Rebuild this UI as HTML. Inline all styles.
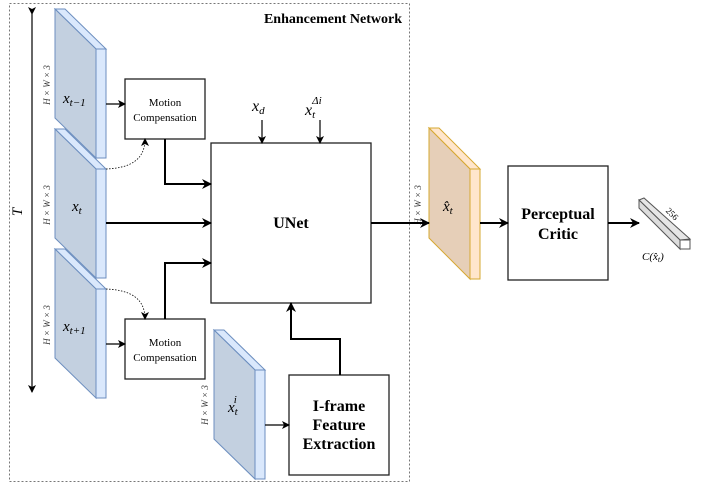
<!DOCTYPE html>
<html><head><style>body{margin:0;background:#fff}svg{display:block}</style></head><body>
<svg width="706" height="484" viewBox="0 0 706 484" xmlns="http://www.w3.org/2000/svg" font-family="Liberation Serif, serif">
<defs>
<marker id="a" markerWidth="10" markerHeight="10" refX="9" refY="5" orient="auto" markerUnits="userSpaceOnUse"><path d="M0,0 L10,5 L0,10 L3,5 z" fill="#000"/></marker>
<marker id="s" markerWidth="8" markerHeight="8" refX="7" refY="4" orient="auto" markerUnits="userSpaceOnUse"><path d="M0,0 L8,4 L0,8 L2,4 z" fill="#000"/></marker>
</defs>
<rect x="9.5" y="3.5" width="400" height="478" fill="none" stroke="#777" stroke-dasharray="2,2"/>
<text x="402" y="23" text-anchor="end" font-weight="bold" font-size="14">Enhancement Network</text>
<line x1="32" y1="14" x2="32" y2="392" stroke="#000" stroke-width="1.2" marker-start="url(#s)" marker-end="url(#s)"/>
<text transform="translate(22,212) rotate(-90)" font-size="15" font-style="italic" text-anchor="middle">T</text>
<g stroke="#6c8ebf" stroke-width="1">
<g id="sl">
<polygon points="55,9 65,9 106,49 96,49" fill="#dae8fc"/>
<rect x="96" y="49" width="10" height="109" fill="#dae8fc"/>
<polygon points="55,9 96,49 96,158 55,118" fill="#c3d0e0"/>
</g>
<use href="#sl" y="120"/>
<use href="#sl" y="240"/>
<use href="#sl" x="159" y="321"/>
</g>
<g stroke="#d6a832" stroke-width="1">
<polygon points="429,128 439,128 480,169 470,169" fill="#ffe6cc"/>
<rect x="470" y="169" width="10" height="110" fill="#ffe6cc"/>
<polygon points="429,128 470,169 470,279 429,238" fill="#e6cfb8"/>
</g>
<g font-size="9" fill="#333" font-style="italic">
<text transform="translate(50,85) rotate(-90)" text-anchor="middle">H × W × 3</text>
<text transform="translate(50,205) rotate(-90)" text-anchor="middle">H × W × 3</text>
<text transform="translate(50,325) rotate(-90)" text-anchor="middle">H × W × 3</text>
<text transform="translate(208,405) rotate(-90)" text-anchor="middle">H × W × 3</text>
<text transform="translate(421,205) rotate(-90)" text-anchor="middle">H × W × 3</text>
</g>
<g font-size="15" font-style="italic">
<text x="63" y="103">x<tspan font-size="11" dy="3">t−1</tspan></text>
<text x="72" y="211">x<tspan font-size="11" dy="3">t</tspan></text>
<text x="63" y="331">x<tspan font-size="11" dy="3">t+1</tspan></text>
<text x="228" y="412">x<tspan font-size="11" dy="3">t</tspan><tspan font-size="11" dx="-4" dy="-12">i</tspan></text>
<text x="443" y="211">x̂<tspan font-size="11" dy="3">t</tspan></text>
</g>
<g font-size="16" font-style="italic">
<text x="252" y="111">x<tspan font-size="11" dy="3">d</tspan></text>
<text x="305" y="115">x<tspan font-size="11" dy="3">t</tspan><tspan font-size="11" dx="-3" dy="-14">Δi</tspan></text>
</g>
<g fill="#fff" stroke="#222" stroke-width="1.3">
<rect x="125" y="79" width="80" height="60"/>
<rect x="125" y="319" width="80" height="60"/>
<rect x="211" y="143" width="160" height="160"/>
<rect x="289" y="375" width="100" height="100"/>
<rect x="508" y="166" width="100" height="114"/>
</g>
<g font-size="11" text-anchor="middle">
<text x="165" y="106">Motion</text><text x="165" y="121">Compensation</text>
<text x="165" y="346">Motion</text><text x="165" y="361">Compensation</text>
</g>
<g font-size="16" font-weight="bold" text-anchor="middle">
<text x="291" y="228">UNet</text>
<text x="339" y="411">I-frame</text><text x="339" y="430">Feature</text><text x="339" y="449">Extraction</text>
<text x="558" y="219">Perceptual</text><text x="558" y="239">Critic</text>
</g>
<g fill="none" stroke="#000">
<line x1="106" y1="104" x2="125" y2="104" stroke-width="1.2" marker-end="url(#s)"/>
<line x1="106" y1="344" x2="125" y2="344" stroke-width="1.2" marker-end="url(#s)"/>
<path d="M165,139 V184 H211" stroke-width="2" marker-end="url(#a)"/>
<path d="M165,319 V263 H211" stroke-width="2" marker-end="url(#a)"/>
<line x1="106" y1="223" x2="211" y2="223" stroke-width="2" marker-end="url(#a)"/>
<line x1="262" y1="120" x2="262" y2="143" stroke-width="1.2" marker-end="url(#s)"/>
<line x1="320" y1="120" x2="320" y2="143" stroke-width="1.2" marker-end="url(#s)"/>
<path d="M340,375 V339 H291 V303" stroke-width="2" marker-end="url(#a)"/>
<line x1="265" y1="425" x2="289" y2="425" stroke-width="1.2" marker-end="url(#s)"/>
<line x1="371" y1="223" x2="429" y2="223" stroke-width="2" marker-end="url(#a)"/>
<line x1="480" y1="223" x2="508" y2="223" stroke-width="2" marker-end="url(#a)"/>
<line x1="608" y1="223" x2="639" y2="223" stroke-width="2" marker-end="url(#a)"/>
<path d="M106,169 C130,168 145,160 145,139" stroke-width="0.8" stroke-dasharray="1.5,1.5" marker-end="url(#s)"/>
<path d="M106,289 C130,290 145,298 145,319" stroke-width="0.8" stroke-dasharray="1.5,1.5" marker-end="url(#s)"/>
</g>
<g stroke="#555" stroke-width="1" fill="#e6e6e6">
<polygon points="639,200 644,198 690,239 680,240"/>
<polygon points="639,200 680,240 680,249 639,208" fill="#ddd"/>
<rect x="680" y="240" width="10" height="9" fill="#fff"/>
</g>
<text transform="translate(670,216) rotate(45)" font-size="9" text-anchor="middle">256</text>
<text x="642" y="260" font-size="11" font-style="italic">C(x̂<tspan font-size="8" dy="2">t</tspan><tspan dy="-2">)</tspan></text>
</svg>
</body></html>
